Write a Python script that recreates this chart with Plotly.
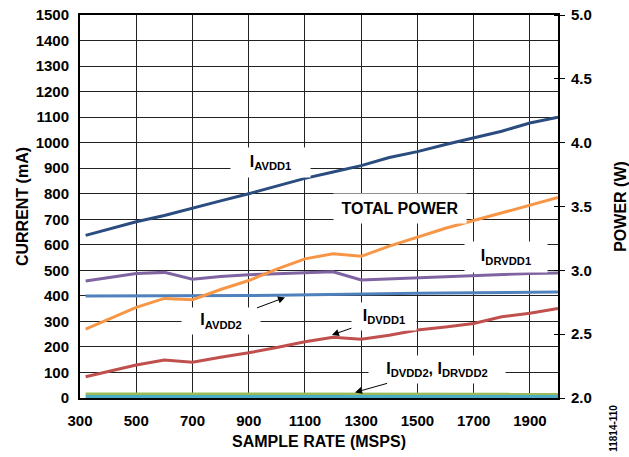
import plotly.graph_objects as go

sample_rate = [320, 500, 600, 700, 800, 900, 1000, 1100, 1200, 1300, 1400, 1500, 1600, 1700, 1800, 1900, 2000]
i_avdd1 = [637, 690, 715, 745, 772, 800, 830, 860, 885, 910, 942, 965, 993, 1020, 1045, 1077, 1100]
i_drvdd1 = [458, 488, 492, 465, 476, 483, 487, 490, 494, 462, 466, 473, 477, 480, 485, 488, 490]
i_avdd2 = [399, 399, 399, 400, 400, 401, 402, 404, 406, 408, 409, 410, 411, 412, 413, 414, 415]
i_dvdd1 = [83, 129, 149, 140, 160, 177, 198, 220, 238, 230, 246, 266, 278, 292, 318, 332, 351]
i_dvdd2 = [16, 16, 16, 15, 15, 15, 15, 15, 15, 15, 15, 15, 15, 15, 15, 15, 15]
i_drvdd2 = [6, 6, 6, 6, 6, 6, 6, 6, 6, 6, 6, 6, 6, 6, 6, 6, 6]
total_power = [2.54, 2.71, 2.78, 2.77, 2.85, 2.92, 3.01, 3.09, 3.13, 3.11, 3.19, 3.26, 3.33, 3.39, 3.45, 3.51, 3.57]

FONT = "Arial, Liberation Sans, sans-serif"

fig = go.Figure()

def add(y, color, axis="y"):
    fig.add_trace(go.Scatter(x=sample_rate, y=y, mode="lines", yaxis=axis,
                             line=dict(color=color, width=3), showlegend=False,
                             hoverinfo="skip"))

add(i_dvdd2, "#9bbb59")
add(i_drvdd2, "#4bacc6")
add(i_dvdd1, "#c0504d")
add(i_avdd2, "#4f81bd")
add(i_drvdd1, "#8064a2")
add(i_avdd1, "#2b4c7e")
add(total_power, "#f79646", "y2")

ann_font = dict(family=FONT, size=16, color="black", weight="bold")

def label(text, x, y, w, h, arrow=None):
    d = dict(text=text, xref="x", yref="y", font=ann_font, bgcolor="white",
             width=w, height=h, align="center", valign="middle")
    if arrow is None:
        d.update(x=x, y=y, showarrow=False)
    else:
        tx, ty, ax, ay = arrow
        d.update(x=tx, y=ty, ax=ax, ay=ay, showarrow=True, arrowhead=2,
                 arrowsize=1.4, arrowwidth=1, arrowcolor="black", standoff=0)
    fig.add_annotation(**d)

label("I<sub>AVDD1</sub>", 979, 924, 77, 27)
label("TOTAL POWER", 1438, 744, 130, 27)
label("I<sub>DRVDD1</sub>", 1815, 552, 80, 28)
label("I<sub>AVDD2</sub>", None, None, 76, 24, arrow=(1029, 394, -64, 24))
label("I<sub>DVDD1</sub>", None, None, 62, 25, arrow=(1196, 247, 52, -18))
label("I<sub>DVDD2</sub>, I<sub>DRVDD2</sub>", None, None, 134, 25, arrow=(1278, 22, 82, -23))

fig.add_annotation(text="11814-110", xref="paper", yref="paper", x=1.117, y=-0.078,
                   showarrow=False, textangle=-90, xanchor="center", yanchor="middle",
                   font=dict(family=FONT, size=10, color="black"))

grid = "#222222"
fig.update_layout(
    width=629, height=457,
    margin=dict(l=80, r=71, t=15, b=59, autoexpand=False),
    paper_bgcolor="white", plot_bgcolor="white",
    font=dict(family=FONT, size=15, color="black", weight="bold"),
    xaxis=dict(range=[300, 2000], tick0=300, dtick=200, showgrid=True, gridcolor=grid,
               gridwidth=1, showline=True, linecolor="black", linewidth=2, mirror=True,
               ticks="", zeroline=False, ticklabelstandoff=8, automargin=False,
               title=dict(text="SAMPLE RATE (MSPS)", standoff=8,
                          font=dict(size=16, weight="bold"))),
    yaxis=dict(range=[0, 1500], dtick=100, showgrid=True, gridcolor=grid, gridwidth=1,
               showline=True, linecolor="black", linewidth=2, mirror=True, ticks="",
               zeroline=False, ticklabelstandoff=6, automargin=False,
               title=dict(text="CURRENT (mA)", standoff=3,
                          font=dict(size=16, weight="bold"))),
    yaxis2=dict(range=[2, 5], dtick=0.5, tick0=2, overlaying="y", side="right",
                showgrid=False, showline=True, linecolor="black", linewidth=2,
                ticks="outside", ticklen=5, tickwidth=1, tickcolor="black",
                tickformat=".1f", zeroline=False, ticklabelstandoff=3, automargin=False,
                minor=dict(ticks="inside", ticklen=4, tickwidth=1, tickcolor="black",
                           dtick=0.5, tick0=2, showgrid=False),
                title=dict(text="POWER (W)", standoff=25,
                           font=dict(size=16, weight="bold"))),
)

fig.write_html("out.html", config={"displayModeBar": False},
               post_script="document.body.style.margin='0';document.body.style.overflow='hidden';")
